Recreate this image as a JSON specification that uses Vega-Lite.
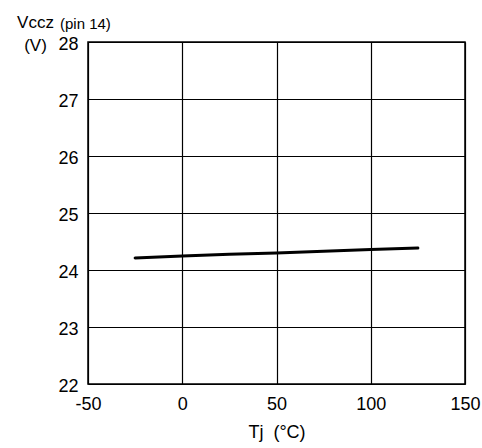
{
  "$schema": "https://vega.github.io/schema/vega-lite/v6.json",
  "width": 377,
  "height": 342,
  "autosize": {"type": "none"},
  "padding": {"left": 88, "top": 42, "right": 17, "bottom": 64},
  "background": "white",
  "config": {
    "font": "Liberation Sans",
    "view": {"stroke": "black", "strokeWidth": 1.5},
    "axis": {"labelFont": "Liberation Sans", "titleFont": "Liberation Sans", "labelColor": "black", "titleColor": "black", "titleFontWeight": "normal"}
  },
  "title": {
    "text": "(pin 14)",
    "anchor": "start",
    "frame": "group",
    "dx": -28,
    "dy": 35,
    "fontSize": 15,
    "fontWeight": "normal",
    "color": "black",
    "baseline": "alphabetic",
    "offset": 4
  },
  "data": {
    "values": [
      {"tj": -25, "v": 24.21},
      {"tj": 0, "v": 24.245},
      {"tj": 25, "v": 24.275},
      {"tj": 50, "v": 24.30},
      {"tj": 75, "v": 24.33},
      {"tj": 100, "v": 24.36},
      {"tj": 125, "v": 24.385}
    ]
  },
  "mark": {"type": "line", "color": "black", "strokeWidth": 3, "strokeCap": "round"},
  "encoding": {
    "x": {
      "field": "tj", "type": "quantitative",
      "scale": {"domain": [-50, 150], "nice": false, "zero": false},
      "axis": {
        "values": [-50, 0, 50, 100, 150],
        "labelExpr": "'' + datum.value",
        "title": "Tj\u00a0 (°C)",
        "titleFontSize": 18,
        "titlePadding": 10,
        "labelFontSize": 18,
        "labelPadding": 11,
        "ticks": false,
        "domain": false,
        "grid": true,
        "gridColor": "black",
        "gridOpacity": 1,
        "gridWidth": 1.2,
        "labelFlush": false
      }
    },
    "y": {
      "field": "v", "type": "quantitative",
      "scale": {"domain": [22, 28], "nice": false, "zero": false},
      "axis": {
        "values": [22, 23, 24, 25, 26, 27, 28],
        "title": ["Vccz", "(V)"],
        "titleAngle": 0,
        "titleAlign": "center",
        "titleBaseline": "alphabetic",
        "titleX": -53,
        "titleY": -15,
        "titleLineHeight": 23,
        "titleFontSize": 17,
        "labelFontSize": 18,
        "labelPadding": 10,
        "labelOffset": 2,
        "labelBaseline": "middle",
        "ticks": false,
        "domain": false,
        "grid": true,
        "gridColor": "black",
        "gridOpacity": 1,
        "gridWidth": 1.2,
        "labelFlush": false
      }
    }
  }
}
